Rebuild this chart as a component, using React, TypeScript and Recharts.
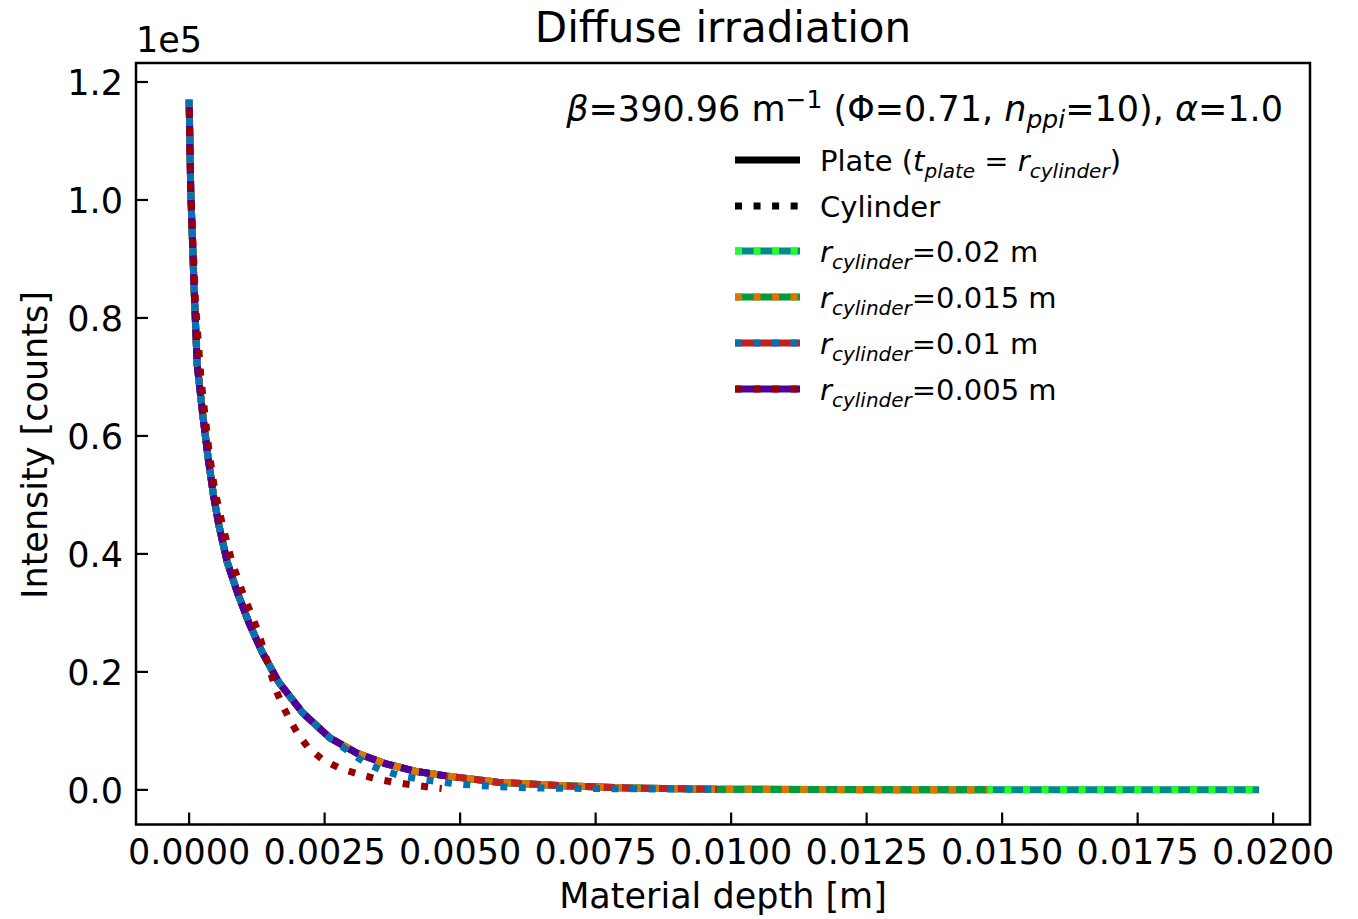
import { LineChart, Line, XAxis, YAxis, Legend, ReferenceArea } from 'recharts';

// Plate curve, shared by every plate thickness
const depthPlate = [
  0, 0.00003, 0.0001, 0.00015, 0.00025, 0.00035, 0.00045, 0.00055, 0.0007, 0.0009,
  0.0011, 0.00135, 0.00165, 0.0021, 0.0026, 0.0031, 0.0036, 0.0042, 0.00474, 0.0057,
  0.0069, 0.0081, 0.00974, 0.0115, 0.0132, 0.01474, 0.0165, 0.018, 0.01974,
];
const intensityPlate = [
  117000, 101500, 83000, 72000, 63700, 56300, 49900, 44800, 38700, 33200,
  28400, 23300, 18300, 13000, 8800, 6200, 4500, 3100, 2370, 1300,
  700, 320, 120, 50, 25, 12, 6, 3, 1,
];

// Cylinder r = 0.01 m: leaves the plate curve after ~2.6 mm
const depthCyl010 = [
  0, 0.00003, 0.0001, 0.00015, 0.00025, 0.00035, 0.00045, 0.00055, 0.0007, 0.0009,
  0.0011, 0.00135, 0.00165, 0.0021, 0.0026, 0.00299, 0.00326, 0.00357, 0.00391, 0.00425,
  0.00458, 0.00492, 0.00526, 0.0056, 0.00594, 0.00628, 0.00665, 0.00757, 0.00935, 0.00974,
];
const intensityCyl010 = [
  117000, 101500, 83000, 72000, 63700, 56300, 49900, 44800, 38700, 33200,
  28400, 23300, 18300, 13000, 8800, 6220, 4530, 3270, 2370, 1810,
  1410, 1020, 800, 600, 460, 340, 290, 220, 120, 100,
];

// Cylinder r = 0.005 m: a little above the plate first, then drops faster
const depthCyl005 = [
  0, 0.00003, 0.00012, 0.00022, 0.00037, 0.00047, 0.00062, 0.00079, 0.00101, 0.00115,
  0.00128, 0.0014, 0.0015, 0.0016, 0.0017, 0.00185, 0.002, 0.0022, 0.00247, 0.00278,
  0.00311, 0.00345, 0.00377, 0.0041, 0.00444, 0.00466,
];
const intensityCyl005 = [
  117000, 101500, 82200, 69600, 57200, 51000, 44700, 38700, 32800, 29800,
  26600, 23000, 20000, 17000, 14800, 12000, 9600, 7100, 5080, 3680,
  2710, 1860, 1300, 850, 460, 250,
];

const radii = ['0.02', '0.015', '0.01', '0.005'];
const plateDepthEnd = [0.01974, 0.01474, 0.00974, 0.00474];
const plateColors = ['#008b8b', '#009b3a', '#c41e1e', '#50009a'];
const cylinderColors = ['#22ff22', '#e37200', '#0072b5', '#990000'];

const xTicks = [0, 0.0025, 0.005, 0.0075, 0.01, 0.0125, 0.015, 0.0175, 0.02];
const yTicks = [0, 20000, 40000, 60000, 80000, 100000, 120000];

const FONT = '"DejaVu Sans", sans-serif';
const DOTS = '7 11.55';

const toPoints = (depth: number[], intensity: number[]) =>
  depth.map((d, i) => ({ depth: d, intensity: intensity[i] }));

const plateCurve = toPoints(depthPlate, intensityPlate);
const plateData = plateDepthEnd.map((end) => plateCurve.filter((p) => p.depth <= end + 1e-9));
const cylinderData = [
  plateData[0],
  plateData[1],
  toPoints(depthCyl010, intensityCyl010),
  toPoints(depthCyl005, intensityCyl005),
];

function XTick({ x, y, payload }: any) {
  return (
    <g>
      <line x1={x} x2={x} y1={y} y2={y - 12} stroke="#000" strokeWidth={2.2} />
      <text x={x} y={y + 39} textAnchor="middle" fontSize={35} fontFamily={FONT} fill="#000">
        {payload.value.toFixed(4)}
      </text>
    </g>
  );
}

function YTick({ x, y, payload }: any) {
  return (
    <g>
      <line x1={x} x2={x + 12} y1={y} y2={y} stroke="#000" strokeWidth={2.2} />
      <text x={x - 13} y={y + 13} textAnchor="end" fontSize={35} fontFamily={FONT} fill="#000">
        {(payload.value / 1e5).toFixed(1)}
      </text>
    </g>
  );
}

function Sub({ children, dy = 7 }: any) {
  return (
    <tspan dy={dy} fontSize={20} fontStyle="italic">
      {children}
    </tspan>
  );
}

function LegendBox() {
  const rows = [126, 171, 217, 263, 309];
  return (
    <svg width={760} height={340} style={{ overflow: 'visible' }}>
      <text x={723} y={41} textAnchor="end" fontSize={35} fontFamily={FONT} fill="#000">
        <tspan fontStyle="italic">β</tspan>=390.96 m
        <tspan dy={-13} fontSize={25}>−1</tspan>
        <tspan dy={13}> (Φ=0.71, </tspan>
        <tspan fontStyle="italic">n</tspan>
        <tspan dy={7} fontSize={25} fontStyle="italic">ppi</tspan>
        <tspan dy={-7}>=10), </tspan>
        <tspan fontStyle="italic">α</tspan>=1.0
      </text>

      <line x1={175} x2={240} y1={80} y2={80} stroke="#000" strokeWidth={7} />
      <text x={260} y={90.5} fontSize={29} fontFamily={FONT} fill="#000">
        Plate (<tspan fontStyle="italic">t</tspan>
        <Sub>plate</Sub>
        <tspan dy={-7}> = </tspan>
        <tspan fontStyle="italic">r</tspan>
        <Sub>cylinder</Sub>
        <tspan dy={-7}>)</tspan>
      </text>

      <line x1={175} x2={240} y1={rows[0]} y2={rows[0]} stroke="#000" strokeWidth={7} strokeDasharray={DOTS} />
      <text x={260} y={rows[0] + 10.5} fontSize={29} fontFamily={FONT} fill="#000">
        Cylinder
      </text>

      {radii.map((r, i) => (
        <g key={r}>
          <line x1={175} x2={240} y1={rows[i + 1]} y2={rows[i + 1]} stroke={plateColors[i]} strokeWidth={7} />
          <line
            x1={175}
            x2={240}
            y1={rows[i + 1]}
            y2={rows[i + 1]}
            stroke={cylinderColors[i]}
            strokeWidth={7}
            strokeDasharray={DOTS}
          />
          <text x={260} y={rows[i + 1] + 10.5} fontSize={29} fontFamily={FONT} fill="#000">
            <tspan fontStyle="italic">r</tspan>
            <Sub>cylinder</Sub>
            <tspan dy={-7}>={r} m</tspan>
          </text>
        </g>
      ))}
    </svg>
  );
}

export default function App() {
  const xDomain = [-0.00098, 0.02068];
  const yDomain = [-5870, 123220];

  return (
    <div style={{ position: 'absolute', left: 0, top: 0, width: 1358, height: 919, background: '#fff' }}>
      <LineChart width={1358} height={919} margin={{ top: 63, right: 48, bottom: 0, left: 0 }}>
        <XAxis
          dataKey="depth"
          type="number"
          domain={xDomain}
          allowDataOverflow
          ticks={xTicks}
          interval={0}
          height={94.5}
          tickSize={0}
          tickMargin={0}
          tickLine={false}
          tick={<XTick />}
          axisLine={false}
        />
        <YAxis
          type="number"
          domain={yDomain}
          allowDataOverflow
          ticks={yTicks}
          interval={0}
          width={136}
          tickSize={0}
          tickMargin={0}
          tickLine={false}
          tick={<YTick />}
          axisLine={false}
        />

        {plateData.map((data, i) => (
          <Line
            key={`plate-${radii[i]}`}
            data={data}
            dataKey="intensity"
            type="linear"
            stroke={plateColors[i]}
            strokeWidth={7}
            strokeLinejoin="round"
            dot={false}
            activeDot={false}
            isAnimationActive={false}
          />
        ))}
        {cylinderData.map((data, i) => (
          <Line
            key={`cyl-${radii[i]}`}
            data={data}
            dataKey="intensity"
            type="linear"
            stroke={cylinderColors[i]}
            strokeWidth={7}
            strokeDasharray={DOTS}
            strokeDashoffset={i === 3 ? 9 : 0}
            dot={false}
            activeDot={false}
            isAnimationActive={false}
          />
        ))}

        {/* axes frame */}
        <ReferenceArea
          x1={xDomain[0]}
          x2={xDomain[1]}
          y1={yDomain[0]}
          y2={yDomain[1]}
          ifOverflow="visible"
          fill="none"
          fillOpacity={0}
          stroke="#000"
          strokeWidth={2.5}
          strokeOpacity={1}
        />

        <Legend
          layout="horizontal"
          verticalAlign="middle"
          align="center"
          wrapperStyle={{ left: 560, top: 80, width: 760, height: 340 }}
          content={() => <LegendBox />}
        />
      </LineChart>

      <svg
        width={1358}
        height={919}
        style={{ position: 'absolute', left: 0, top: 0, pointerEvents: 'none' }}
        fontFamily={FONT}
        fill="#000"
      >
        <text x={723} y={41.7} textAnchor="middle" fontSize={42}>
          Diffuse irradiation
        </text>
        <text x={136} y={51.7} fontSize={35}>
          1e5
        </text>
        <text x={723} y={908} textAnchor="middle" fontSize={35}>
          Material depth [m]
        </text>
        <text transform="translate(47,445) rotate(-90)" textAnchor="middle" fontSize={35}>
          Intensity [counts]
        </text>
      </svg>
    </div>
  );
}
